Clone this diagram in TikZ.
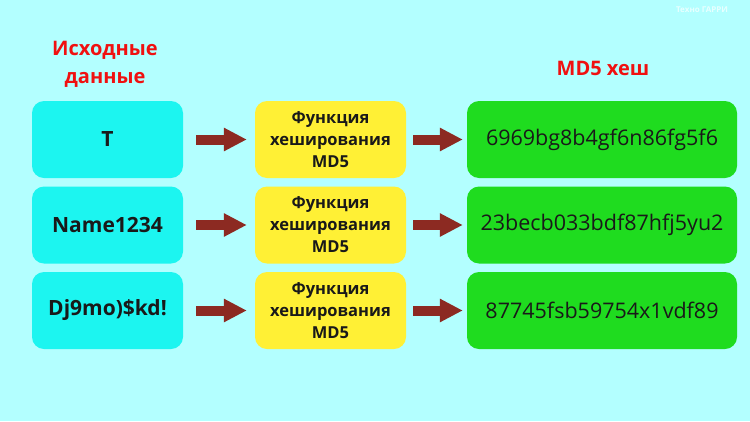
\documentclass[tikz,border=0pt]{standalone}
\usepackage{fontspec}
\setmainfont{Open Sans}
\usepackage{xcolor}
\usetikzlibrary{arrows.meta}
\definecolor{bgcyan}{HTML}{B3FFFF}
\definecolor{incyan}{HTML}{1CF5F0}
\definecolor{fnyellow}{HTML}{FFF035}
\definecolor{outgreen}{HTML}{1FDC1F}
\definecolor{arrowred}{HTML}{8C2A22}
\definecolor{titlered}{HTML}{F01010}

\begin{document}
\begin{tikzpicture}[x=1pt, y=-1pt,
  box/.style={rounded corners=12pt, minimum height=77pt, inner sep=0pt, align=center, text=black!90},
  inbox/.style={box, fill=incyan, minimum width=151pt, font=\bfseries\fontsize{21}{24}\selectfont},
  fnbox/.style={box, fill=fnyellow, minimum width=151pt, font=\bfseries\fontsize{16.5}{22}\selectfont},
  outbox/.style={box, fill=outgreen, minimum width=270pt, font=\fontsize{21.5}{24}\selectfont},
  flow/.style={arrowred, line width=10pt, -{Triangle[length=23pt, width=22pt]}},
  title/.style={titlered, font=\bfseries\fontsize{20}{28}\selectfont, align=center}]
  % background
  \fill[bgcyan] (0,0) rectangle (750,421);
  \useasboundingbox (0,0) rectangle (750,421);
  \node[white, opacity=0.7, font=\bfseries\fontsize{8}{9}\selectfont] (mark) at (702,10) {Техно ГАРРИ};
  % column titles
  \node[title] (tin) at (105,64) {Исходные\\данные};
  \node[title] (tout) at (603,68) {MD5 хеш};
  % rows
  \foreach \y/\txt/\hash [count=\i] in {139.5/T/6969bg8b4gf6n86fg5f6,
      225/Name1234/23becb033bdf87hfj5yu2,
      310.5/Dj9mo)\$kd!/87745fsb59754x1vdf89}{
    \node[inbox] (in\i) at (107.5,\y) {\txt};
    \node[fnbox] (fn\i) at (330.5,\y) {Функция\\хеширования\\MD5};
    \node[outbox] (out\i) at (602,\y) {\hash};
    \draw[flow, shorten <=13pt, shorten >=8pt] (in\i) -- (fn\i);
    \draw[flow, shorten <=7pt, shorten >=4pt] (fn\i) -- (out\i);
  }
\end{tikzpicture}
\end{document}
